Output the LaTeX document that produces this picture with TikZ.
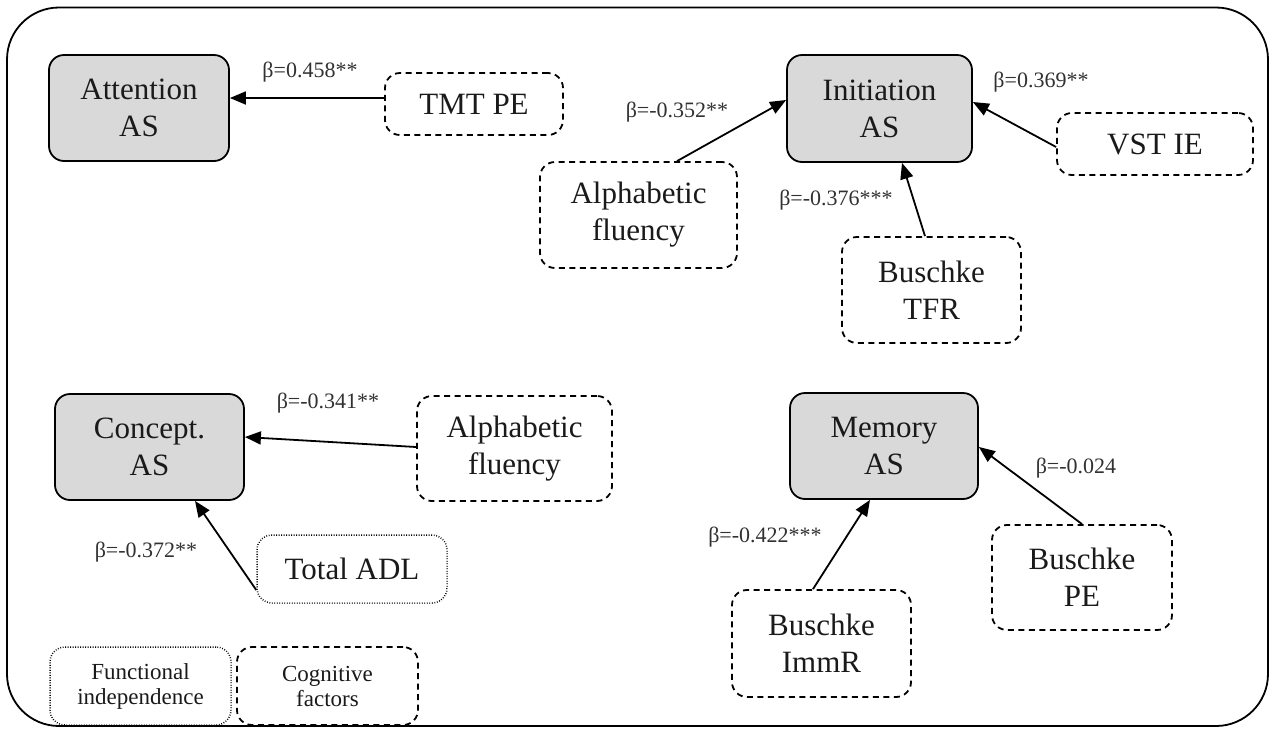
\documentclass[tikz,border=0pt]{standalone}
\usepackage{fontspec}
\setmainfont{Liberation Serif}
\usetikzlibrary{arrows.meta,calc}
\definecolor{boxgray}{HTML}{D9D9D9}
\definecolor{ink}{HTML}{1A1A1A}
\begin{document}
\begin{tikzpicture}[x=1pt,y=-1pt,
  mainbox/.style={draw=black, line width=1.8pt, fill=boxgray, rounded corners=15pt, align=center, inner sep=0pt, text=ink, font=\fontsize{31}{37}\selectfont},
  cogbox/.style={draw=black, line width=1.8pt, dash pattern=on 6pt off 4.5pt, rounded corners=15pt, align=center, inner sep=0pt, text=ink, font=\fontsize{31}{37}\selectfont},
  funcbox/.style={draw=black, line width=1.5pt, dash pattern=on 0.8pt off 1.7pt, rounded corners=15pt, align=center, inner sep=0pt, text=ink, font=\fontsize{31}{37}\selectfont},
  legendtext/.style={font=\fontsize{23}{25}\selectfont},
  lbl/.style={inner sep=0pt, text=ink!90, font=\fontsize{22}{24}\selectfont},
  arr/.style={draw=black, line width=1.8pt, -{Triangle[length=16pt,width=13pt]}}
]
\useasboundingbox (0,0) rectangle (1270,729);
% outer frame
\draw[line width=1.8pt, rounded corners=52pt] (7,7.5) rectangle (1268,726);

% main (gray) boxes
\node[mainbox, minimum width=180pt, minimum height=106pt] (att) at (139,108) {Attention\\AS};
\node[mainbox, minimum width=185pt, minimum height=107pt] (ini) at (879.5,108.5) {Initiation\\AS};
\node[mainbox, minimum width=189pt, minimum height=106pt] (con) at (149.5,447) {Concept.\\AS};
\node[mainbox, minimum width=188pt, minimum height=106pt] (mem) at (884,446) {Memory\\AS};

% cognitive factor boxes
\node[cogbox, minimum width=178pt, minimum height=62pt] (tmt) at (474,104) {TMT PE};
\node[cogbox, minimum width=197pt, minimum height=106pt] (alfa) at (638.5,215) {Alphabetic\\fluency};
\node[cogbox, minimum width=196pt, minimum height=62pt] (vst) at (1155,144) {VST IE};
\node[cogbox, minimum width=179pt, minimum height=106pt] (tfr) at (931.5,290) {Buschke\\TFR};
\node[cogbox, minimum width=195pt, minimum height=105pt] (alfb) at (514.5,448.5) {Alphabetic\\fluency};
\node[cogbox, minimum width=180pt, minimum height=105pt] (bpe) at (1082,577.5) {Buschke\\PE};
\node[cogbox, minimum width=179pt, minimum height=107pt] (imm) at (821.5,643.5) {Buschke\\ImmR};

% functional independence box
\node[funcbox, minimum width=190pt, minimum height=68pt] (adl) at (352,569) {Total ADL};

% legend
\node[funcbox, legendtext, minimum width=181pt, minimum height=78pt] (legf) at (140.5,686) {Functional\\independence};
\node[cogbox, legendtext, minimum width=181pt, minimum height=78pt] (legc) at (327.5,686) {Cognitive\\factors};

% connectors
\draw[arr] ($(tmt.west)+(0,-6)$) -- ($(att.east)+(0,-10)$);
\draw[arr] ($(alfa.north)+(38.5,0)$) -- ($(ini.west)+(0,-8.5)$);
\draw[arr] ($(vst.west)+(0,3)$) -- ($(ini.east)+(0,-6.5)$);
\draw[arr] ($(tfr.north)+(-6.5,0)$) -- ($(ini.south)+(22.5,0)$);
\draw[arr] ($(alfb.west)+(0,-1.5)$) -- ($(con.east)+(0,-10)$);
\draw[arr] ($(adl.west)+(0,21)$) -- ($(con.south)+(45.5,0)$);
\draw[arr] ($(imm.north)+(-8.5,0)$) -- ($(mem.south)+(-14,0)$);
\draw[arr] (bpe.north) -- ($(mem.east)+(0,1)$);

% coefficient labels
\node[lbl] (l1) at (310,72) {β=0.458**};
\node[lbl] (l2) at (677,112) {β=-0.352**};
\node[lbl] (l3) at (1041,82) {β=0.369**};
\node[lbl] (l4) at (836,200) {β=-0.376***};
\node[lbl] (l5) at (328,403) {β=-0.341**};
\node[lbl] (l6) at (146,552) {β=-0.372**};
\node[lbl] (l7) at (1076,468) {β=-0.024};
\node[lbl] (l8) at (765,537) {β=-0.422***};
\end{tikzpicture}
\end{document}
